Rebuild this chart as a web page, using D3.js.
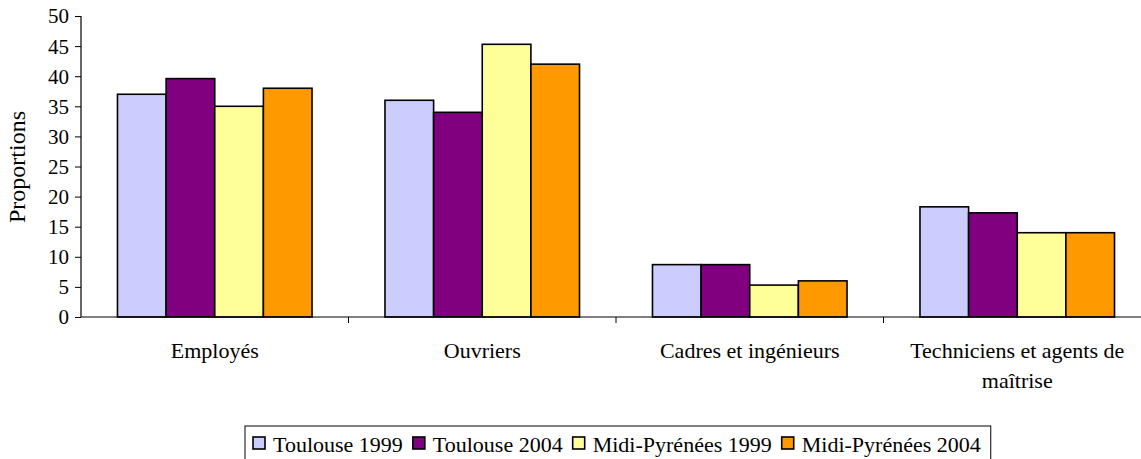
<!DOCTYPE html>
<html>
<head>
<meta charset="utf-8">
<script src="https://cdn.jsdelivr.net/npm/d3@7"></script>
<style>
  body { margin: 0; background: #fff; }
  svg { display: block; }
  text { font-family: "Liberation Serif", "Times New Roman", serif; fill: #000; }
</style>
</head>
<body>
<script>
// categories and series
var categories = ["Employés", "Ouvriers", "Cadres et ingénieurs", "Techniciens et agents de maîtrise"];
var series = ["Toulouse 1999", "Toulouse 2004", "Midi-Pyrénées 1999", "Midi-Pyrénées 2004"];
var colors = ["#ccccff", "#800080", "#ffff99", "#ff9900"];

// values per series, in category order
var toulouse1999 = [37, 36, 8.7, 18.3];
var toulouse2004 = [39.6, 34, 8.7, 17.3];
var midi1999 = [35, 45.3, 5.3, 14];
var midi2004 = [38, 42, 6, 14];

var yTicks = [0, 5, 10, 15, 20, 25, 30, 35, 40, 45, 50];

var values = [toulouse1999, toulouse2004, midi1999, midi2004];

var width = 1141, height = 459;
var mLeft = 81, mRight = 1151, mTop = 16, mBottom = 317;

var svg = d3.select("body").append("svg").attr("width", width).attr("height", height);

var x0 = d3.scaleBand().domain(categories).range([mLeft, mRight]).paddingInner(0).paddingOuter(0);
var x1 = d3.scaleBand().domain(series).range([0, x0.bandwidth()]).paddingInner(0).paddingOuter(0.75);
var y = d3.scaleLinear().domain([0, 50]).range([mBottom, mTop]);
var color = d3.scaleOrdinal().domain(series).range(colors);

/* bars */
var rows = categories.map(function (c, i) {
  return { cat: c, vals: series.map(function (s, j) { return { s: s, v: values[j][i] }; }) };
});

var groups = svg.selectAll(".grp").data(rows).enter().append("g")
  .attr("class", "grp")
  .attr("transform", function (d) { return "translate(" + x0(d.cat) + ",0)"; });

groups.selectAll("rect").data(function (d) { return d.vals; }).enter().append("rect")
  .attr("x", function (d) { return x1(d.s); })
  .attr("width", x1.bandwidth())
  .attr("y", function (d) { return y(d.v); })
  .attr("height", function (d) { return y(0) - y(d.v); })
  .attr("fill", function (d) { return color(d.s); })
  .attr("stroke", "#000")
  .attr("stroke-width", 1.6);

/* y axis */
var yAxis = svg.append("g").attr("transform", "translate(" + mLeft + ",0)")
  .call(d3.axisLeft(y).tickValues(yTicks).tickSize(6).tickPadding(6));
yAxis.select(".domain").attr("stroke", "#000").attr("stroke-width", 1.2).attr("d", "M0," + mTop + "V" + mBottom);
yAxis.selectAll(".tick line").attr("stroke", "#000");
yAxis.selectAll(".tick text").style("font-family", "Liberation Serif").style("font-size", "21px").attr("dy", "0.33em");

/* x axis: ticks at the category boundaries */
var xAxis = svg.append("g");
xAxis.append("line").attr("x1", mLeft).attr("x2", width).attr("y1", mBottom).attr("y2", mBottom)
  .attr("stroke", "#000").attr("stroke-width", 1.2);
xAxis.selectAll(".xt").data(categories.slice(1)).enter().append("line")
  .attr("x1", function (d) { return x0(d); }).attr("x2", function (d) { return x0(d); })
  .attr("y1", mBottom).attr("y2", mBottom + 6).attr("stroke", "#000");

var labels = xAxis.selectAll(".xl").data(categories).enter().append("text")
  .attr("x", function (d) { return x0(d) + x0.bandwidth() / 2; })
  .attr("y", 358)
  .attr("text-anchor", "middle")
  .style("font-size", "22px")
  .text(function (d) { return d; });
labels.call(wrap, 240);

function wrap(sel, w) {
  sel.each(function () {
    var t = d3.select(this), words = t.text().split(" "), line = [], lineNo = 0;
    var cx = t.attr("x"), cy = t.attr("y");
    var tspan = t.text(null).append("tspan").attr("x", cx).attr("y", cy);
    words.forEach(function (word) {
      line.push(word);
      tspan.text(line.join(" "));
      if (tspan.node().getComputedTextLength() > w && line.length > 1) {
        line.pop();
        tspan.text(line.join(" "));
        line = [word];
        lineNo++;
        tspan = t.append("tspan").attr("x", cx).attr("y", +cy + lineNo * 30).text(word);
      }
    });
  });
}

/* y title */
svg.append("text")
  .attr("transform", "translate(25,167) rotate(-90)")
  .attr("text-anchor", "middle")
  .style("font-size", "24px")
  .text("Proportions");

/* legend */
var legend = svg.append("g");
var box = legend.append("rect").attr("x", 245).attr("y", 426).attr("height", 40)
  .attr("fill", "#fff").attr("stroke", "#000").attr("stroke-width", 1);
var lx = 253;
series.forEach(function (s) {
  legend.append("rect").attr("x", lx).attr("y", 437).attr("width", 12).attr("height", 12)
    .attr("fill", color(s)).attr("stroke", "#000").attr("stroke-width", 1.6);
  var t = legend.append("text").attr("x", lx + 20).attr("y", 452).style("font-size", "22px").text(s);
  lx += 20 + t.node().getComputedTextLength() + 10;
});
box.attr("width", lx - 245);
</script>
</body>
</html>
